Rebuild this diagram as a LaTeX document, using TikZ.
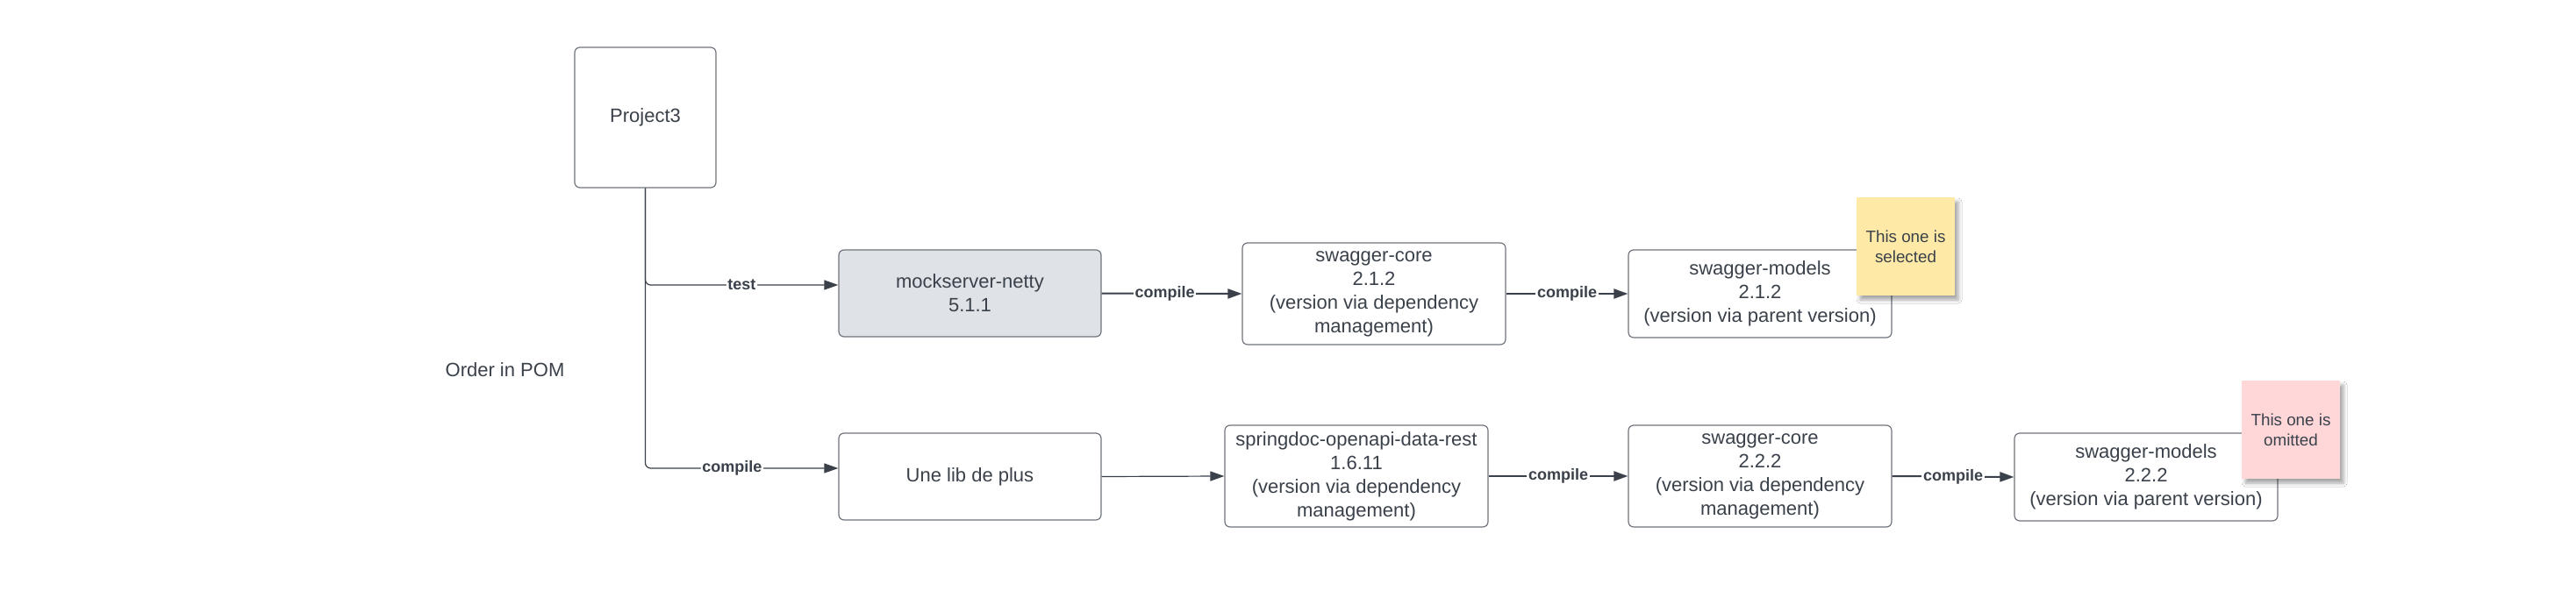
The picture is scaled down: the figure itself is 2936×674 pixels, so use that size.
\documentclass[tikz,border=0pt]{standalone}
\usepackage{fontspec}
\setmainfont{Liberation Sans}
\usetikzlibrary{arrows.meta,shadows.blur}
\definecolor{txt}{HTML}{3A414A}
\definecolor{bord}{HTML}{70757D}
\definecolor{grayfill}{HTML}{DFE3E8}
\definecolor{yel}{HTML}{FFE9A6}
\definecolor{pnk}{HTML}{FFD7D9}
\begin{document}
\begin{tikzpicture}[x=0.5pt,y=-0.5pt,
  box/.style={draw=bord,line width=0.6pt,rounded corners=3pt,fill=white,text=txt,align=center,inner sep=0pt,
    font=\fontsize{11}{13.5}\selectfont},
  notebox/.style={fill=#1,text=txt,align=center,inner sep=0pt,minimum width=56pt,minimum height=56pt,
    font=\fontsize{9.4}{11.5}\selectfont,
    blur shadow={shadow xshift=2pt,shadow yshift=-2.5pt,shadow blur radius=2pt,shadow opacity=35}},
  thinarrow/.style={draw=txt,line width=0.6pt,-{Triangle[length=8pt,width=5.5pt]}},
  thickarrow/.style={draw=txt,line width=1pt,-{Triangle[length=8pt,width=5.5pt]}},
  lbl/.style={font=\fontsize{9}{10}\selectfont\bfseries,text=txt,fill=white,inner sep=0.8pt}]
\fill[white] (0,0) rectangle (2936,674);
\useasboundingbox (0,0) rectangle (2936,674);

\node[box,minimum width=80.5pt,minimum height=80pt] (P) at (735.5,134) {Project3};
\node[box,fill=grayfill,minimum width=149.5pt,minimum height=49.5pt] (mock) at (1105.5,334.5) {mockserver-netty\\5.1.1};
\node[box,minimum width=150pt,minimum height=58pt] (sc1) at (1566,335) {swagger-core\\2.1.2\\(version via dependency\\management)};
\node[box,minimum width=150pt,minimum height=50pt] (sm1) at (2006,335) {swagger-models\\2.1.2\\(version via parent version)};

\node[box,minimum width=149.5pt,minimum height=49.5pt] (lib) at (1105.5,543.5) {Une lib de plus};
\node[box,minimum width=150pt,minimum height=58pt] (sd) at (1546,543) {springdoc-openapi-data-rest\\1.6.11\\(version via dependency\\management)};
\node[box,minimum width=150pt,minimum height=58pt] (sc2) at (2006,543) {swagger-core\\2.2.2\\(version via dependency\\management)};
\node[box,minimum width=150pt,minimum height=50pt] (sm2) at (2446,544) {swagger-models\\2.2.2\\(version via parent version)};

\node[text=txt,font=\fontsize{11}{13.5}\selectfont] (order) at (575.5,422) {Order in POM};

\draw[thinarrow,rounded corners=3pt] (P.south) |- node[lbl,pos=0.75]{test} (mock.west |- 0,325);
\draw[thinarrow,rounded corners=3pt] (P.south) |- node[lbl,pos=0.725]{compile} (lib.west |- 0,534);
\draw[thickarrow] (mock.east) -- node[lbl,pos=0.45]{compile} (sc1.west);
\draw[thickarrow] (sc1.east) -- node[lbl]{compile} (sm1.west);
\draw[thinarrow] (lib.east) -- (sd.west);
\draw[thickarrow] (sd.east) -- node[lbl]{compile} (sc2.west);
\draw[thickarrow] (sc2.east) -- node[lbl]{compile} (sm2.west);

\node[notebox=yel] (n1) at (2172,281) {This one is\\selected};
\node[notebox=pnk] (n2) at (2611,490) {This one is\\omitted};
\end{tikzpicture}
\end{document}
